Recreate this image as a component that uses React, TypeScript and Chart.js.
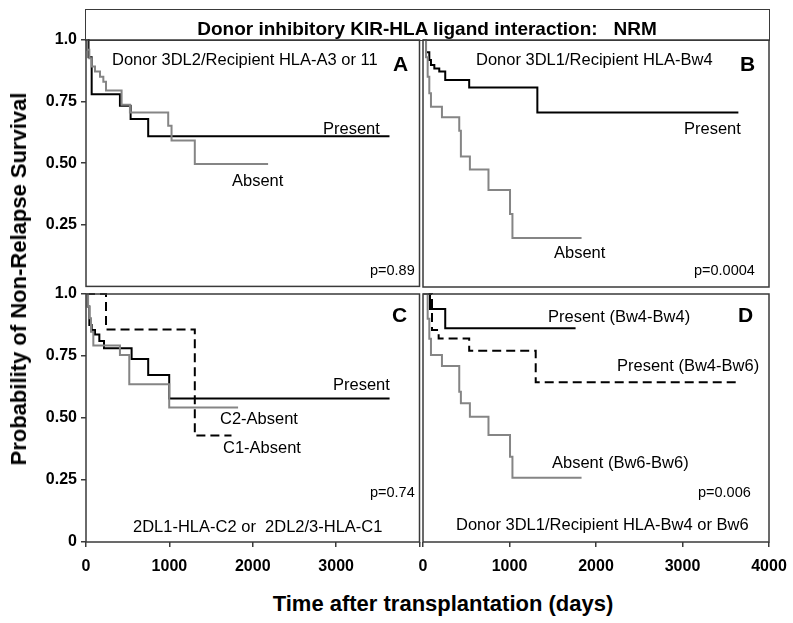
import React, { useEffect, useRef } from "react";
import { Chart, registerables } from "chart.js";

Chart.register(...registerables);

const FONT = "'Liberation Sans', Arial, Helvetica, sans-serif";
const BLACK = "#000000";
const GRAY = "#858585";
const BORDER = "#3a3a3a";

// Axis ticks
const xTickValues = [0, 1000, 2000, 3000, 4000];
const yTickValues = [0, 0.25, 0.5, 0.75, 1.0];
const yTickLabels = ["0", "0.25", "0.50", "0.75", "1.0"];

// Panel A: Donor 3DL2 / Recipient HLA-A3 or 11
const aPresentDays = [0, 30, 68, 407, 535, 746, 3640];
const aPresentSurv = [1, 0.93, 0.78, 0.733, 0.679, 0.609, 0.609];
const aAbsentDays = [0, 15, 40, 68, 108, 168, 208, 240, 427, 527, 986, 1026, 1305, 2184];
const aAbsentSurv = [1, 0.96, 0.926, 0.892, 0.872, 0.851, 0.831, 0.795, 0.737, 0.706, 0.652, 0.592, 0.497, 0.497];

// Panel B: Donor 3DL1 / Recipient HLA-Bw4
const bPresentDays = [0, 35, 73, 92, 131, 188, 257, 534, 1322, 3646];
const bPresentSurv = [1, 0.95, 0.919, 0.899, 0.885, 0.872, 0.838, 0.808, 0.706, 0.706];
const bAbsentDays = [0, 35, 54, 73, 92, 219, 419, 438, 542, 757, 1006, 1034, 1833];
const bAbsentSurv = [1, 0.93, 0.851, 0.784, 0.73, 0.687, 0.633, 0.528, 0.476, 0.393, 0.296, 0.198, 0.198];

// Panel C: 2DL1-HLA-C2 or 2DL2/3-HLA-C1
const cPresentDays = [0, 20, 40, 68, 108, 160, 216, 547, 746, 998, 3641];
const cPresentSurv = [1, 0.95, 0.875, 0.855, 0.837, 0.81, 0.781, 0.738, 0.673, 0.579, 0.579];
const cC2AbsentDays = [0, 25, 40, 60, 88, 407, 519, 998, 1824];
const cC2AbsentSurv = [1, 0.95, 0.902, 0.848, 0.792, 0.754, 0.636, 0.542, 0.542];
const cC1AbsentDays = [0, 240, 1305, 1745];
const cC1AbsentSurv = [1, 0.857, 0.429, 0.429];

// Panel D: Donor 3DL1 / Recipient HLA-Bw4 or Bw6
const dBw4Bw4Days = [0, 81, 257, 1764];
const dBw4Bw4Surv = [1, 0.94, 0.862, 0.862];
const dBw4Bw6Days = [0, 104, 181, 534, 1303, 3666];
const dBw4Bw6Surv = [1, 0.855, 0.821, 0.771, 0.644, 0.644];
const dBw6Bw6Days = [0, 54, 73, 92, 219, 419, 438, 542, 757, 1006, 1034, 1833];
const dBw6Bw6Surv = [1, 0.9, 0.82, 0.754, 0.71, 0.606, 0.559, 0.505, 0.431, 0.344, 0.259, 0.259];

type Series = { days: number[]; surv: number[]; color: string; dash?: number[] };

type PanelSpec = {
  left: number;
  top: number;
  width: number;
  height: number;
  padding: { left: number; right: number; top: number; bottom: number };
  showY: boolean;
  bottom: boolean;
  hideLastX: boolean;
  series: Series[];
};

const boxPlugin = {
  id: "panelBox",
  afterDatasetsDraw(chart: any) {
    const { ctx, chartArea: a } = chart;
    ctx.save();
    ctx.strokeStyle = BORDER;
    ctx.lineWidth = 1.5;
    ctx.strokeRect(a.left, a.top, a.right - a.left, a.bottom - a.top);
    ctx.restore();
  },
};

const tickFont = { family: FONT, size: 16, weight: "bold" as const };

function Panel({ spec }: { spec: PanelSpec }) {
  const ref = useRef<HTMLCanvasElement | null>(null);
  useEffect(() => {
    if (!ref.current) return;
    const datasets = spec.series.map((s) => ({
      data: s.days.map((d, i) => ({ x: d, y: s.surv[i] })),
      borderColor: s.color,
      borderWidth: 2,
      borderDash: s.dash || [],
      stepped: "before" as const,
      pointRadius: 0,
      fill: false,
      clip: false as any,
      tension: 0,
    }));
    const chart = new Chart(ref.current, {
      type: "line",
      data: { datasets },
      options: {
        animation: false,
        responsive: false,
        maintainAspectRatio: false,
        devicePixelRatio: 1,
        layout: { padding: spec.padding },
        plugins: { legend: { display: false }, tooltip: { enabled: false }, title: { display: false } },
        scales: {
          x: {
            type: "linear",
            min: 0,
            max: 4000,
            display: spec.bottom,
            afterFit: (s: any) => {
              s.height = spec.bottom ? 45 : 0;
            },
            afterBuildTicks: (s: any) => {
              s.ticks = xTickValues.map((v) => ({ value: v }));
            },
            ticks: {
              autoSkip: false,
              maxRotation: 0,
              minRotation: 0,
              padding: 10,
              color: "#000",
              font: tickFont,
              callback: (v: any) => (spec.hideLastX && v === 4000 ? "" : String(v)),
            },
            grid: { drawOnChartArea: false, drawTicks: true, tickLength: 5, color: BORDER, lineWidth: 1.5 },
            border: { display: false },
          },
          y: {
            type: "linear",
            min: 0,
            max: 1,
            display: spec.showY,
            afterFit: (s: any) => {
              s.width = spec.showY ? 86 : 0;
            },
            afterBuildTicks: (s: any) => {
              s.ticks = yTickValues.filter((v) => spec.bottom || v > 0).map((v) => ({ value: v }));
            },
            ticks: {
              padding: 4,
              color: "#000",
              font: tickFont,
              callback: (v: any) => {
                const i = yTickValues.indexOf(Number(v));
                return i >= 0 ? yTickLabels[i] : "";
              },
            },
            grid: { drawOnChartArea: false, drawTicks: true, tickLength: 5, color: BORDER, lineWidth: 1.5 },
            border: { display: false },
          },
        },
      },
      plugins: [boxPlugin],
    } as any);
    return () => chart.destroy();
  }, [spec]);
  return (
    <canvas
      ref={ref}
      width={spec.width}
      height={spec.height}
      style={{ position: "absolute", left: spec.left, top: spec.top, width: spec.width, height: spec.height }}
    />
  );
}

const panels: PanelSpec[] = [
  {
    left: 0, top: 0, width: 421, height: 300,
    padding: { left: 0, right: 1.5, top: 40, bottom: 13 },
    showY: true, bottom: false, hideLastX: true,
    series: [
      { days: aAbsentDays, surv: aAbsentSurv, color: GRAY },
      { days: aPresentDays, surv: aPresentSurv, color: BLACK },
    ],
  },
  {
    left: 400, top: 0, width: 393, height: 300,
    padding: { left: 23, right: 24, top: 40, bottom: 13 },
    showY: false, bottom: false, hideLastX: false,
    series: [
      { days: bAbsentDays, surv: bAbsentSurv, color: GRAY },
      { days: bPresentDays, surv: bPresentSurv, color: BLACK },
    ],
  },
  {
    left: 0, top: 280, width: 440, height: 307,
    padding: { left: 0, right: 20.5, top: 14, bottom: 0 },
    showY: true, bottom: true, hideLastX: true,
    series: [
      { days: cC2AbsentDays, surv: cC2AbsentSurv, color: GRAY },
      { days: cPresentDays, surv: cPresentSurv, color: BLACK },
      { days: cC1AbsentDays, surv: cC1AbsentSurv, color: BLACK, dash: [9, 5] },
    ],
  },
  {
    left: 400, top: 280, width: 400, height: 307,
    padding: { left: 23, right: 31, top: 14, bottom: 0 },
    showY: false, bottom: true, hideLastX: false,
    series: [
      { days: dBw6Bw6Days, surv: dBw6Bw6Surv, color: GRAY },
      { days: dBw4Bw4Days, surv: dBw4Bw4Surv, color: BLACK },
      { days: dBw4Bw6Days, surv: dBw4Bw6Surv, color: BLACK, dash: [9, 5] },
    ],
  },
];

type Label = { text: string; x: number; y: number; size: number; bold?: boolean };

const labels: Label[] = [
  { text: "Donor 3DL2/Recipient HLA-A3 or 11", x: 112, y: 59, size: 16.5 },
  { text: "A", x: 393, y: 63, size: 21, bold: true },
  { text: "Present", x: 323, y: 128, size: 16.5 },
  { text: "Absent", x: 232, y: 180, size: 16.5 },
  { text: "p=0.89", x: 370, y: 270, size: 14.5 },
  { text: "Donor 3DL1/Recipient HLA-Bw4", x: 476, y: 59, size: 16.5 },
  { text: "B", x: 740, y: 63, size: 21, bold: true },
  { text: "Present", x: 684, y: 128, size: 16.5 },
  { text: "Absent", x: 554, y: 252, size: 16.5 },
  { text: "p=0.0004", x: 694, y: 270, size: 14.5 },
  { text: "C", x: 392, y: 314, size: 21, bold: true },
  { text: "Present", x: 333, y: 384, size: 16.5 },
  { text: "C2-Absent", x: 220, y: 418, size: 16.5 },
  { text: "C1-Absent", x: 223, y: 447, size: 16.5 },
  { text: "p=0.74", x: 370, y: 492, size: 14.5 },
  { text: "2DL1-HLA-C2 or  2DL2/3-HLA-C1", x: 133, y: 526, size: 16.5 },
  { text: "D", x: 738, y: 314, size: 21, bold: true },
  { text: "Present (Bw4-Bw4)", x: 548, y: 316, size: 16.5 },
  { text: "Present (Bw4-Bw6)", x: 617, y: 365, size: 16.5 },
  { text: "Absent (Bw6-Bw6)", x: 552, y: 462, size: 16.5 },
  { text: "p=0.006", x: 698, y: 492, size: 14.5 },
  { text: "Donor 3DL1/Recipient HLA-Bw4 or Bw6", x: 456, y: 524, size: 16.5 },
];

const TITLE = "Donor inhibitory KIR-HLA ligand interaction:   NRM";
const Y_TITLE = "Probability of Non-Relapse Survival";
const X_TITLE = "Time after transplantation (days)";

export default function App() {
  return (
    <div
      style={{
        position: "absolute",
        left: 0,
        top: 0,
        width: 793,
        height: 623,
        background: "#fff",
        fontFamily: FONT,
        color: "#000",
        overflow: "hidden",
      }}
    >
      <div
        style={{
          position: "absolute",
          left: 85,
          top: 9,
          width: 685,
          height: 32,
          border: `1.5px solid ${BORDER}`,
          boxSizing: "border-box",
        }}
      />
      {panels.map((p, i) => (
        <Panel key={i} spec={p} />
      ))}
      <div
        style={{
          position: "absolute",
          left: 427,
          top: 28,
          transform: "translate(-50%, -50%)",
          fontWeight: "bold",
          fontSize: 19,
          lineHeight: 1,
          whiteSpace: "pre",
        }}
      >
        {TITLE}
      </div>
      {labels.map((l, i) => (
        <div
          key={i}
          style={{
            position: "absolute",
            left: l.x,
            top: l.y,
            transform: "translateY(-50%)",
            fontSize: l.size,
            fontWeight: l.bold ? "bold" : "normal",
            lineHeight: 1,
            whiteSpace: "pre",
          }}
        >
          {l.text}
        </div>
      ))}
      <div
        style={{
          position: "absolute",
          left: 19,
          top: 279,
          transform: "translate(-50%, -50%) rotate(-90deg)",
          fontWeight: "bold",
          fontSize: 22,
          lineHeight: 1,
          whiteSpace: "pre",
        }}
      >
        {Y_TITLE}
      </div>
      <div
        style={{
          position: "absolute",
          left: 443,
          top: 604,
          transform: "translate(-50%, -50%)",
          fontWeight: "bold",
          fontSize: 22,
          lineHeight: 1,
          whiteSpace: "pre",
        }}
      >
        {X_TITLE}
      </div>
    </div>
  );
}
